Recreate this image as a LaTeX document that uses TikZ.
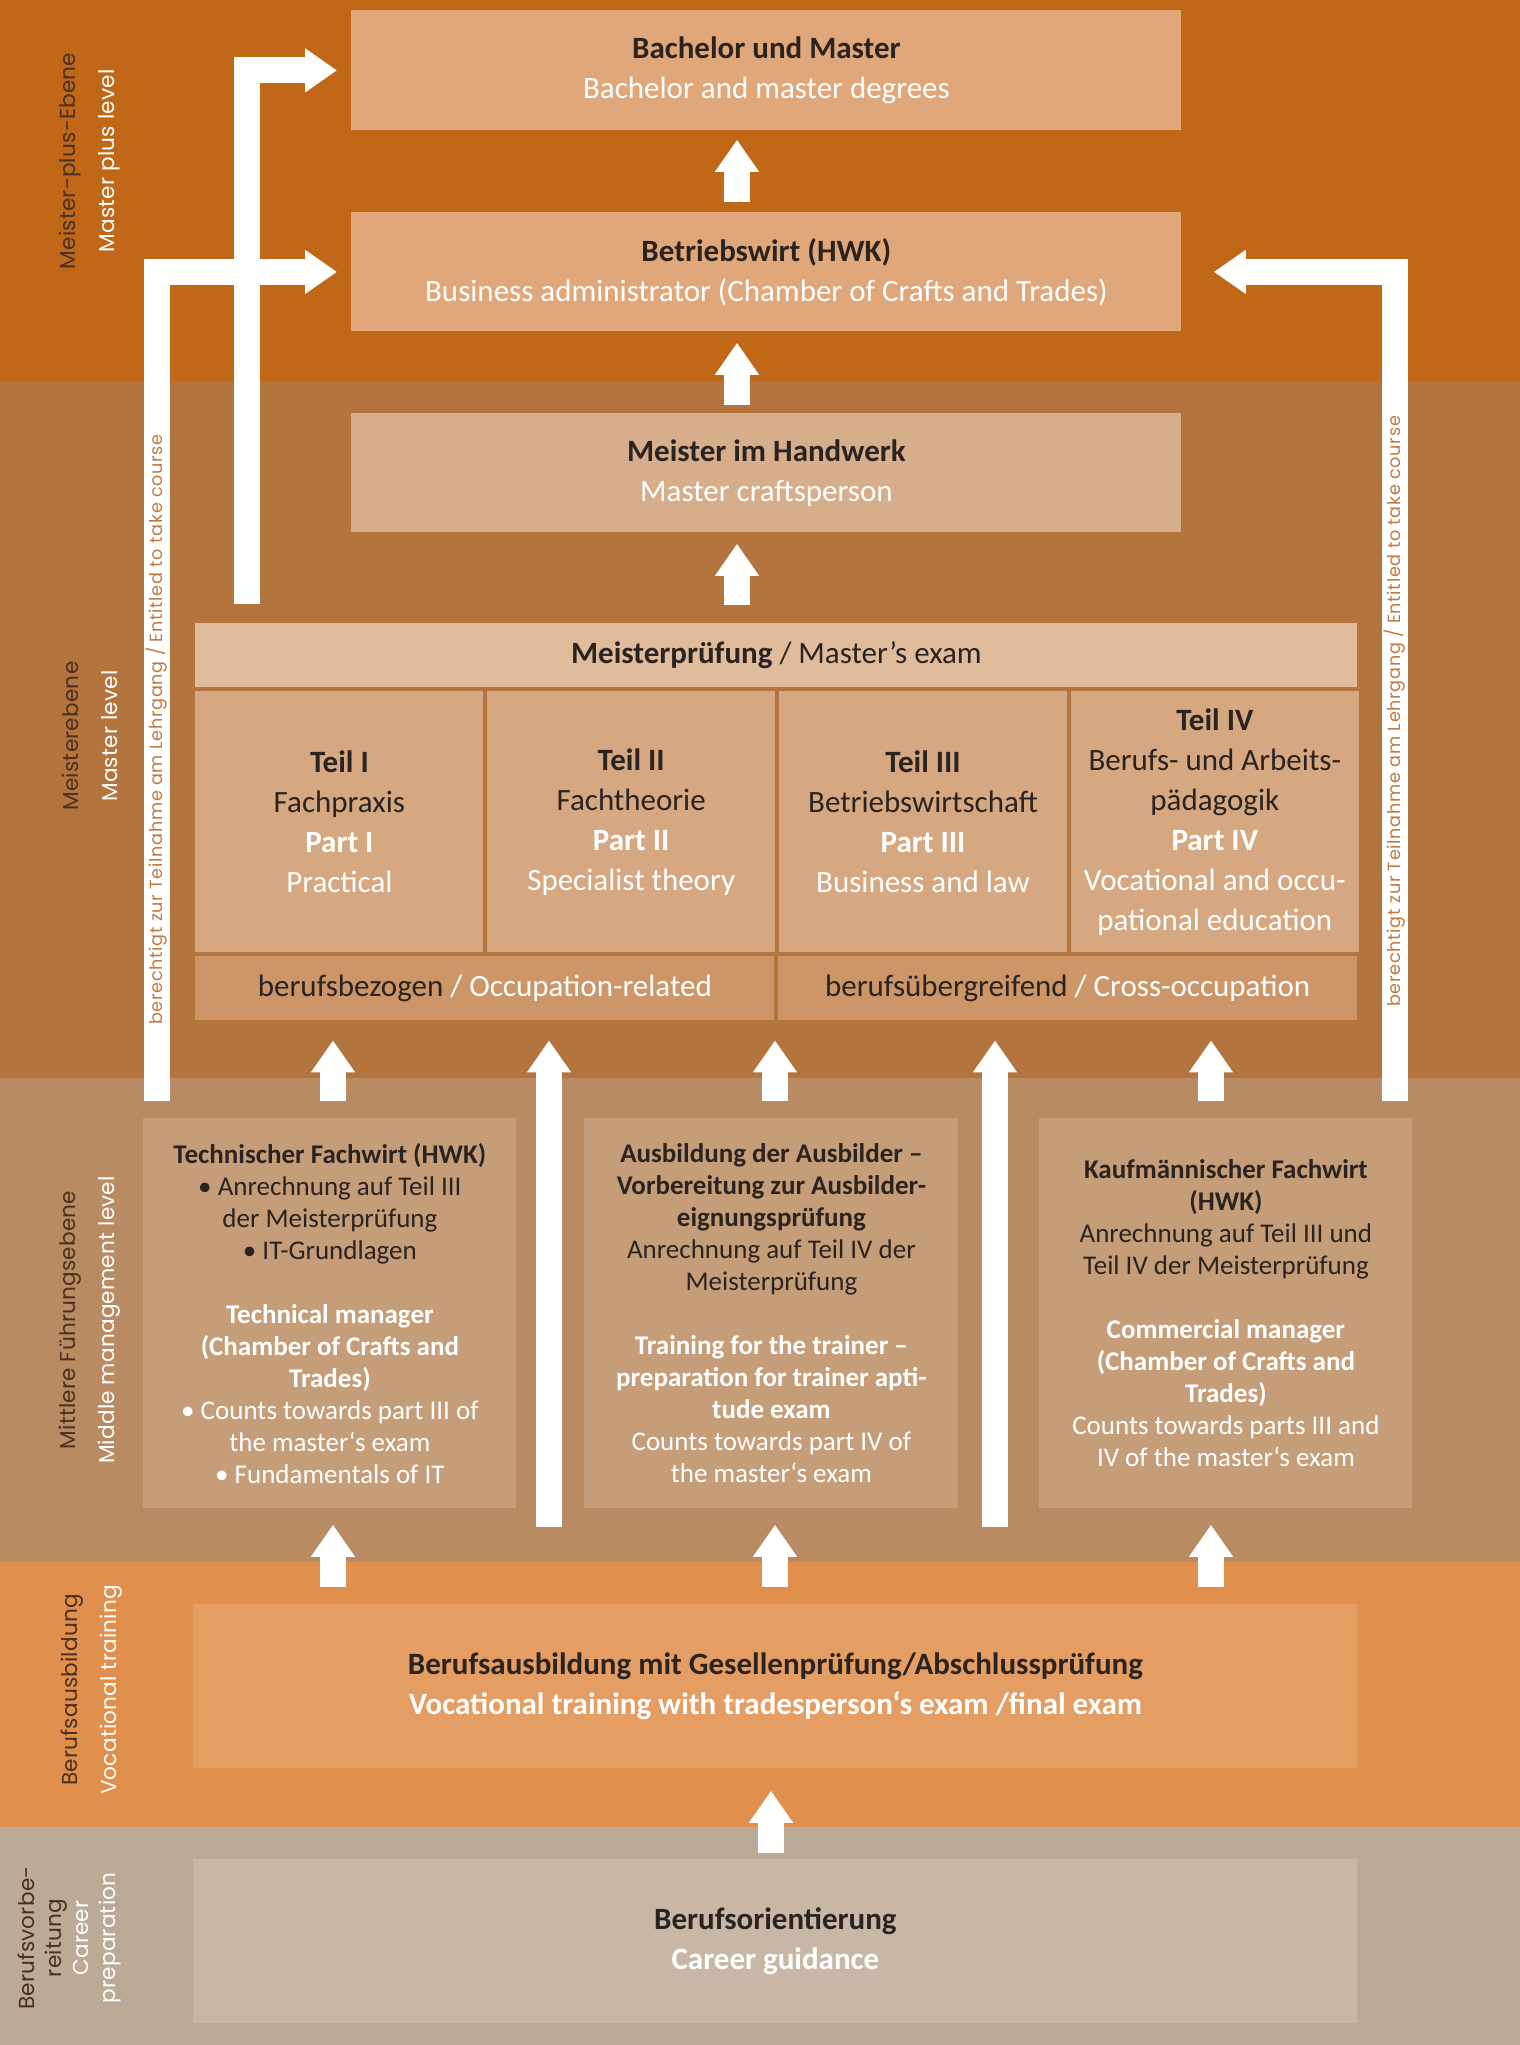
\documentclass[tikz,border=0pt]{standalone}
\usepackage{fontspec}
\setmainfont{Carlito}
\newfontfamily\levelfont[LetterSpace=1]{Poppins}
\newfontfamily\barfont[LetterSpace=4]{Poppins}
\usetikzlibrary{arrows.meta, positioning, calc}

% band colours (background stripes)
\definecolor{band_plus}{HTML}{C06817}
\definecolor{band_master}{HTML}{B3743E}
\definecolor{band_middle}{HTML}{B98B63}
\definecolor{band_voc}{HTML}{E08F4C}
\definecolor{band_prep}{HTML}{BAAA96}
% box colours
\definecolor{box_top}{HTML}{E0A87A}
\definecolor{box_meister}{HTML}{D7AE8C}
\definecolor{box_head}{HTML}{E0BC9C}
\definecolor{box_teil}{HTML}{D5A881}
\definecolor{box_row}{HTML}{CC9668}
\definecolor{box_middle}{HTML}{C59D79}
\definecolor{box_voc}{HTML}{E49D63}
\definecolor{box_prep}{HTML}{C8B7A6}
% text colours
\definecolor{txt_dark}{HTML}{2A2320}
\definecolor{lvl_dark}{HTML}{4A3020}
\definecolor{bar_txt}{HTML}{C07A40}

\newcommand{\engl}[1]{\textcolor{white}{#1}}

\begin{document}
\begin{tikzpicture}[
    x=0.5pt, y=-0.5pt, % one unit is one pixel of the page, y runs down
    >={Triangle[length=16pt, width=21pt]}, % head of the white block arrows
    box/.style={fill=#1, inner sep=0pt, anchor=north west, align=center,
        text=txt_dark, font=\fontsize{15.5}{20}\selectfont},
    smallbox/.style={box=#1, font=\fontsize{13.5}{16}\selectfont},
    cell/.style={box=box_teil, minimum width=144pt, minimum height=130.5pt},
    bar/.style={draw=white, line width=13pt}, % shaft of a block arrow
    level/.style={rotate=90, align=center, text=white,
        font=\levelfont\fontsize{10.8}{19.5}\selectfont},
    bartext/.style={rotate=90, text=bar_txt, inner sep=0pt,
        font=\barfont\fontsize{8.8}{8.8}\selectfont}
]

    % page size
    \def\pagew{1520}
    \def\pageh{2045}
    \useasboundingbox (0,0) rectangle (\pagew,\pageh);

    % Bands
    \fill[band_plus] (0,0) rectangle (\pagew,381);
    \fill[band_master] (0,381) rectangle (\pagew,1078);
    \fill[band_middle] (0,1078) rectangle (\pagew,1562);
    \fill[band_voc] (0,1562) rectangle (\pagew,1827);
    \fill[band_prep] (0,1827) rectangle (\pagew,\pageh);

    % Level labels on the left
    \node[level] (lvl_plus) at (90,161)
        {\textcolor{lvl_dark}{Meister-plus-Ebene}\\ Master plus level};
    \node[level] (lvl_master) at (90,736)
        {\textcolor{lvl_dark}{Meisterebene}\\ Master level};
    \node[level] (lvl_middle) at (90,1320)
        {\textcolor{lvl_dark}{Mittlere Führungsebene}\\ Middle management level};
    \node[level] (lvl_voc) at (92,1690)
        {\textcolor{lvl_dark}{Berufsausbildung}\\ Vocational training};
    \node[level, font=\levelfont\fontsize{10.8}{13.5}\selectfont] (lvl_prep) at (70,1938)
        {\textcolor{lvl_dark}{Berufsvorbe-}\\ \textcolor{lvl_dark}{reitung}\\ Career\\ preparation};

    % Meister-plus level
    \node[box=box_top, minimum width=415pt, minimum height=60pt] (bachelor) at (351,10)
        {\textbf{Bachelor und Master}\\ \engl{Bachelor and master degrees}};
    \node[box=box_top, minimum width=415pt, minimum height=59.5pt] (betrieb) at (351,212)
        {\textbf{Betriebswirt (HWK)}\\ \engl{Business administrator (Chamber of Crafts and Trades)}};

    % Master level
    \node[box=box_meister, minimum width=415pt, minimum height=59.5pt] (meister) at (351,413)
        {\textbf{Meister im Handwerk}\\ \engl{Master craftsperson}};
    \node[box=box_head, minimum width=581pt, minimum height=32pt] (exam_head) at (195,623)
        {\textbf{Meisterprüfung} / Master’s exam};

    \node[cell, below right=1.5pt and 0pt of exam_head.south west] (teil_1)
        {\textbf{Teil I}\\ Fachpraxis\\ \engl{\textbf{Part I}}\\ \engl{Practical}};
    \node[cell, right=1.5pt of teil_1] (teil_2)
        {\textbf{Teil II}\\ Fachtheorie\\ \engl{\textbf{Part II}}\\ \engl{Specialist theory}};
    \node[cell, right=1.5pt of teil_2] (teil_3)
        {\textbf{Teil III}\\ Betriebswirtschaft\\ \engl{\textbf{Part III}}\\ \engl{Business and law}};
    \node[cell, right=1.5pt of teil_3] (teil_4)
        {\textbf{Teil IV}\\ Berufs- und Arbeits-\\ pädagogik\\ \engl{\textbf{Part IV}}\\
         \engl{Vocational and occu-}\\ \engl{pational education}};

    \node[box=box_row, minimum width=289.5pt, minimum height=32pt,
        below right=1.5pt and 0pt of teil_1.south west] (bezogen)
        {berufsbezogen \engl{/ Occupation-related}};
    \node[box=box_row, minimum width=289.5pt, minimum height=32pt,
        right=1.5pt of bezogen] (uebergreifend)
        {berufsübergreifend \engl{/ Cross-occupation}};

    % Middle management level
    \node[smallbox=box_middle, minimum width=186.5pt, minimum height=195pt] (techn) at (143,1118)
        {\textbf{Technischer Fachwirt (HWK)}\\ • Anrechnung auf Teil III\\ der Meisterprüfung\\
         • IT-Grundlagen\\[16pt]
         \engl{\textbf{Technical manager}}\\ \engl{\textbf{(Chamber of Crafts and}}\\
         \engl{\textbf{Trades)}}\\ \engl{• Counts towards part III of}\\
         \engl{the master‘s exam}\\ \engl{• Fundamentals of IT}};
    \node[smallbox=box_middle, minimum width=187pt, minimum height=195pt] (ausb) at (584,1118)
        {\textbf{Ausbildung der Ausbilder –}\\ \textbf{Vorbereitung zur Ausbilder-}\\
         \textbf{eignungsprüfung}\\ Anrechnung auf Teil IV der\\ Meisterprüfung\\[16pt]
         \engl{\textbf{Training for the trainer –}}\\ \engl{\textbf{preparation for trainer apti-}}\\
         \engl{\textbf{tude exam}}\\ \engl{Counts towards part IV of}\\ \engl{the master‘s exam}};
    \node[smallbox=box_middle, minimum width=186.5pt, minimum height=195pt] (kauf) at (1039,1118)
        {\textbf{Kaufmännischer Fachwirt}\\ \textbf{(HWK)}\\ Anrechnung auf Teil III und\\
         Teil IV der Meisterprüfung\\[16pt]
         \engl{\textbf{Commercial manager}}\\ \engl{\textbf{(Chamber of Crafts and}}\\
         \engl{\textbf{Trades)}}\\ \engl{Counts towards parts III and}\\
         \engl{IV of the master‘s exam}};

    % Vocational training and career preparation
    \node[box=box_voc, minimum width=582pt, minimum height=82pt] (voc) at (193,1604)
        {\textbf{Berufsausbildung mit Gesellenprüfung/Abschlussprüfung}\\
         \engl{\textbf{Vocational training with tradesperson‘s exam /final exam}}};
    \node[box=box_prep, minimum width=582pt, minimum height=82pt] (career) at (193,1859)
        {\textbf{Berufsorientierung}\\ \engl{\textbf{Career guidance}}};

    % Columns of the arrows
    \coordinate (col_spine) at (737,0);
    \coordinate (col_a) at (333,0);
    \coordinate (col_b) at (775,0);
    \coordinate (col_c) at (1211,0);
    \coordinate (col_ab) at (549,0);
    \coordinate (col_bc) at (995,0);
    \coordinate (col_down) at (771,0);

    % Arrows up the middle
    \draw[bar, ->, shorten <=4pt, shorten >=5.5pt] (meister.north -| col_spine) -- (betrieb.south -| col_spine);
    \draw[bar, ->, shorten <=5pt, shorten >=4.5pt] (betrieb.north -| col_spine) -- (bachelor.south -| col_spine);
    \draw[bar, ->, shorten <=9pt, shorten >=5.5pt] (exam_head.north -| col_spine) -- (meister.south -| col_spine);

    % Arrows into the master's exam
    \draw[bar, ->, shorten <=8.5pt, shorten >=10pt] (techn.north -| col_a) -- (bezogen.south -| col_a);
    \draw[bar, ->, shorten <=8.5pt, shorten >=10pt] (ausb.north -| col_b) -- (bezogen.south -| col_b);
    \draw[bar, ->, shorten <=8.5pt, shorten >=10pt] (kauf.north -| col_c) -- (uebergreifend.south -| col_c);
    \draw[bar, ->, shorten <=38.5pt, shorten >=10pt] (voc.north -| col_ab) -- (bezogen.south -| col_ab);
    \draw[bar, ->, shorten <=38.5pt, shorten >=10pt] (voc.north -| col_bc) -- (uebergreifend.south -| col_bc);

    % Arrows out of vocational training
    \foreach \col/\target in {col_a/techn, col_b/ausb, col_c/kauf}
        \draw[bar, ->, shorten <=8.5pt, shorten >=8pt] (voc.north -| \col) -- (\target.south -| \col);
    \draw[bar, ->, shorten <=3pt, shorten >=11pt] (career.north -| col_down) -- (voc.south -| col_down);

    % Entitled to take course (elbow arrows)
    \draw[bar, ->] ($(techn.north west)+(14,-17)$) |-
        node[bartext, pos=0.224] (entitled_left) {berechtigt zur Teilnahme am Lehrgang / Entitled to take course}
        ($(betrieb.west)+(-14,0)$);
    \draw[bar, ->] ($(kauf.north east)+(-18,-17)$) |-
        node[bartext, pos=0.235] (entitled_right) {berechtigt zur Teilnahme am Lehrgang / Entitled to take course}
        ($(betrieb.east)+(32,0)$);
    \draw[bar, ->] ($(exam_head.north west)+(52,-19)$) |- ($(bachelor.west)+(-14,0)$);

\end{tikzpicture}
\end{document}
